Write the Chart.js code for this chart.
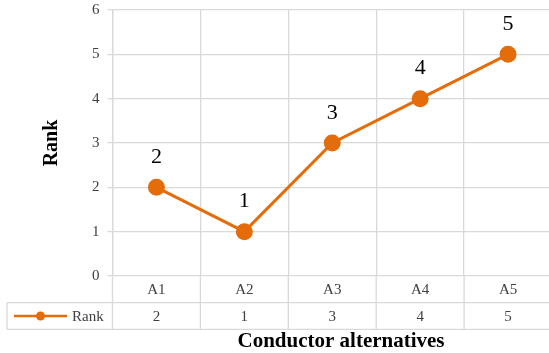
<!DOCTYPE html>
<html><head><meta charset="utf-8">
<script src="https://cdn.jsdelivr.net/npm/chart.js@4/dist/chart.umd.min.js"></script>
<style>
html,body{margin:0;padding:0;background:#fff;overflow:hidden;}
#wrap{width:562px;height:353px;}
</style></head>
<body><div id="wrap"><canvas id="c" width="562" height="353"></canvas></div>
<script>
const categories = ['A1','A2','A3','A4','A5'];
const rankValues = [2, 1, 3, 4, 5];
const yTicks = [0, 1, 2, 3, 4, 5, 6];
const seriesName = 'Rank';
const xTitle = 'Conductor alternatives';
const yTitle = 'Rank';

const SERIF = "'Liberation Serif','Times New Roman',serif";
const ORANGE = '#E46C0A';
const GRID = '#d9d9d9';
const TXT = '#404040';

const tablePlugin = {
  id: 'tablePlugin',
  afterDatasetsDraw(chart) {
    const ctx = chart.ctx;
    const meta = chart.getDatasetMeta(0);
    ctx.save();
    ctx.font = '22px ' + SERIF;
    ctx.fillStyle = '#000';
    ctx.textAlign = 'center';
    ctx.textBaseline = 'middle';
    meta.data.forEach((pt, i) => {
      ctx.fillText(String(rankValues[i]), pt.x, pt.y - 30);
    });
    ctx.restore();
  },
  afterDraw(chart) {
    const ctx = chart.ctx;
    const xs = chart.scales.x;
    const ca = chart.chartArea;
    const row1Top = ca.bottom;
    const row2Top = ca.bottom + 26.7;
    const rowBot = ca.bottom + 53.3;
    const left = 7;
    const right = ca.right;
    const half = (xs.getPixelForValue(1) - xs.getPixelForValue(0)) / 2;
    ctx.save();
    ctx.strokeStyle = GRID;
    ctx.lineWidth = 1.3;
    ctx.beginPath();
    ctx.moveTo(left, row2Top); ctx.lineTo(right, row2Top);
    ctx.moveTo(left, rowBot); ctx.lineTo(right, rowBot);
    ctx.moveTo(left, row2Top); ctx.lineTo(left, rowBot);
    for (let i = 0; i <= categories.length; i++) {
      const bx = xs.getPixelForValue(0) - half + i * 2 * half;
      ctx.moveTo(bx, row1Top); ctx.lineTo(bx, rowBot);
    }
    ctx.stroke();
    ctx.font = '15px ' + SERIF;
    ctx.fillStyle = TXT;
    ctx.textAlign = 'center';
    ctx.textBaseline = 'middle';
    categories.forEach((c, i) => {
      const cx = xs.getPixelForValue(i);
      ctx.fillText(c, cx, (row1Top + row2Top) / 2 + 1);
      ctx.fillText(String(rankValues[i]), cx, (row2Top + rowBot) / 2 + 1);
    });
    const ly = (row2Top + rowBot) / 2;
    ctx.strokeStyle = ORANGE;
    ctx.lineWidth = 2.5;
    ctx.beginPath(); ctx.moveTo(14, ly); ctx.lineTo(67, ly); ctx.stroke();
    ctx.fillStyle = ORANGE;
    ctx.beginPath(); ctx.arc(40.5, ly, 4.5, 0, Math.PI * 2); ctx.fill();
    ctx.fillStyle = TXT;
    ctx.textAlign = 'left';
    ctx.fillText(seriesName, 72, ly + 1);
    ctx.font = 'bold 21px ' + SERIF;
    ctx.fillStyle = '#000';
    ctx.textAlign = 'center';
    ctx.fillText(xTitle, 341, 342);
    ctx.restore();
  }
};

new Chart(document.getElementById('c'), {
  type: 'line',
  data: {
    labels: categories,
    datasets: [{
      label: seriesName,
      data: rankValues,
      borderColor: ORANGE,
      backgroundColor: ORANGE,
      borderWidth: 3,
      pointRadius: 7,
      pointHoverRadius: 7,
      pointBackgroundColor: ORANGE,
      pointBorderColor: ORANGE,
      tension: 0
    }]
  },
  options: {
    responsive: false,
    animation: false,
    events: [],
    layout: { padding: { top: 10, right: 1, left: 0, bottom: 0 } },
    plugins: { legend: { display: false }, tooltip: { enabled: false }, title: { display: false } },
    scales: {
      x: {
        type: 'category',
        offset: true,
        grid: { offset: true, color: GRID, lineWidth: 1.3, drawTicks: false },
        border: { display: false },
        ticks: { display: false },
        afterFit(s) { s.height = 77; s.paddingLeft = 0; s.paddingRight = 0; }
      },
      y: {
        min: 0, max: 6,
        afterBuildTicks(s) { s.ticks = yTicks.map(v => ({ value: v })); },
        grid: { color: GRID, lineWidth: 1.3, tickLength: 5 },
        border: { display: true, color: GRID, width: 1.3 },
        ticks: { font: { family: SERIF, size: 15 }, color: TXT, padding: 8 },
        title: { display: true, text: yTitle, font: { family: SERIF, size: 20, weight: 'bold' }, color: '#000', padding: { top: 40, bottom: 0 } },
        afterFit(s) { s.width = 112.5; s.paddingTop = 0; s.paddingBottom = 0; }
      }
    }
  },
  plugins: [tablePlugin]
});
</script>
</body></html>
